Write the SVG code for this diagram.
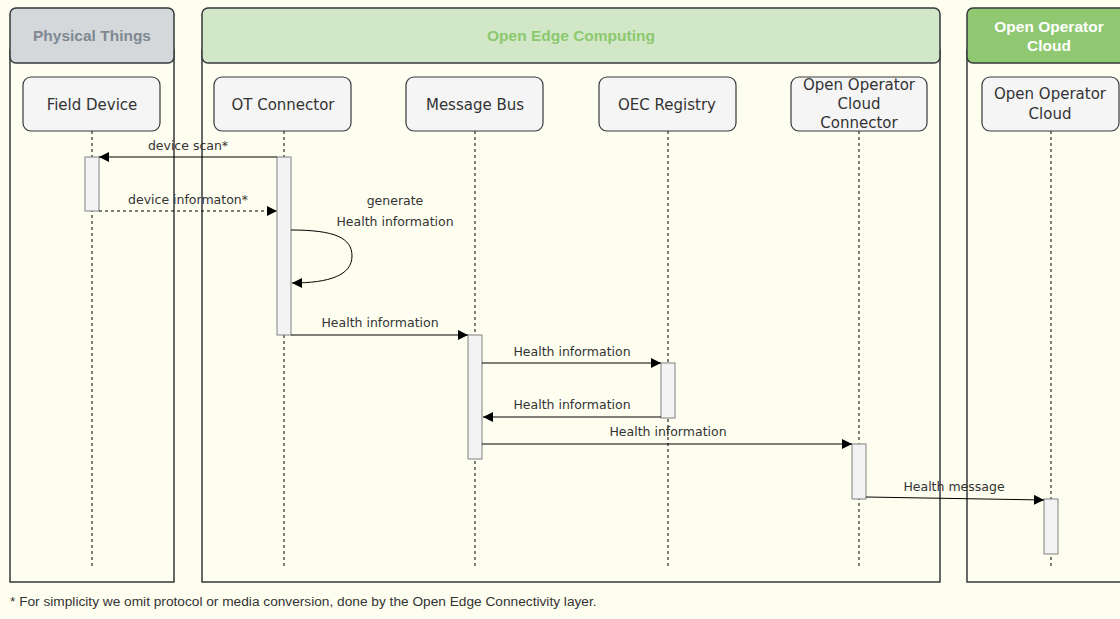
<svg xmlns="http://www.w3.org/2000/svg" width="1120" height="619" viewBox="0 0 1120 619">
  <defs>
    <marker id="arrow" viewBox="0 0 10 10" refX="10" refY="5" markerWidth="10" markerHeight="10" markerUnits="userSpaceOnUse" orient="auto">
      <path d="M0,0 L10,5 L0,10 Z" fill="#000"/>
    </marker>
    <style>
      .lane { fill: none; stroke: #36393d; stroke-width: 1.5; }
      .hdr { stroke: #36393d; stroke-width: 1.5; }
      .hdrtxt { font-family: "Liberation Sans", Arial, sans-serif; font-weight: bold; font-size: 15.5px; text-anchor: middle; }
      .life { fill: #f5f5f5; stroke: #36393d; stroke-width: 1.2; }
      .lifetxt { font-family: "DejaVu Sans", Verdana, sans-serif; font-size: 15px; fill: #333; text-anchor: middle; }
      .dash { stroke: #000; stroke-width: 1; stroke-dasharray: 3 3; fill: none; }
      .bar { fill: #f3f3f3; stroke: #808080; stroke-width: 1; }
      .msg { stroke: #000; stroke-width: 1; fill: none; marker-end: url(#arrow); }
      .msgtxt { font-family: "DejaVu Sans", Verdana, sans-serif; font-size: 12.5px; fill: #333; text-anchor: middle; }
      .note { font-family: "Liberation Sans", Arial, sans-serif; font-size: 13.7px; fill: #333; }
    </style>
  </defs>

  <rect width="1120" height="619" fill="#fefef0"/>

  <!-- swimlanes -->
  <g id="lane-physical">
    <rect class="lane" x="10" y="50" width="164" height="532"/>
    <rect class="hdr" x="10" y="8" width="164" height="55" rx="6" fill="#d4d8db"/>
    <text class="hdrtxt" x="92" y="41" fill="#7f8891">Physical Things</text>
  </g>
  <g id="lane-oec">
    <rect class="lane" x="202" y="50" width="738" height="532"/>
    <rect class="hdr" x="202" y="8" width="738" height="55" rx="6" fill="#d2e7c8"/>
    <text class="hdrtxt" x="571" y="41" fill="#8cc96e">Open Edge Computing</text>
  </g>
  <g id="lane-ooc">
    <rect class="lane" x="967" y="50" width="170" height="532"/>
    <rect class="hdr" x="967" y="8" width="170" height="55" rx="6" fill="#8fc870"/>
    <text class="hdrtxt" x="1049" y="32" fill="#fff">Open Operator</text>
    <text class="hdrtxt" x="1049" y="51" fill="#fff">Cloud</text>
  </g>

  <!-- lifelines -->
  <g id="field-device">
    <line class="dash" x1="92" y1="131" x2="92" y2="569"/>
    <rect class="life" x="23" y="77" width="137" height="54" rx="8"/>
    <text class="lifetxt" x="92" y="110">Field Device</text>
    <rect class="bar" x="85" y="157" width="14" height="54"/>
  </g>
  <g id="ot-connector">
    <line class="dash" x1="284" y1="131" x2="284" y2="569"/>
    <rect class="life" x="214" y="77" width="137" height="54" rx="8"/>
    <text class="lifetxt" x="283" y="110">OT Connector</text>
    <rect class="bar" x="277" y="157" width="14" height="178"/>
  </g>
  <g id="message-bus">
    <line class="dash" x1="475" y1="131" x2="475" y2="569"/>
    <rect class="life" x="406" y="77" width="137" height="54" rx="8"/>
    <text class="lifetxt" x="475" y="110">Message Bus</text>
    <rect class="bar" x="468" y="335" width="14" height="124"/>
  </g>
  <g id="oec-registry">
    <line class="dash" x1="668" y1="131" x2="668" y2="569"/>
    <rect class="life" x="599" y="77" width="137" height="54" rx="8"/>
    <text class="lifetxt" x="667" y="110">OEC Registry</text>
    <rect class="bar" x="661" y="363" width="14" height="55"/>
  </g>
  <g id="ooc-connector">
    <line class="dash" x1="859" y1="131" x2="859" y2="569"/>
    <rect class="life" x="791" y="77" width="136" height="54" rx="8"/>
    <text class="lifetxt" x="859" y="90">Open Operator</text>
    <text class="lifetxt" x="859" y="109">Cloud</text>
    <text class="lifetxt" x="859" y="128">Connector</text>
    <rect class="bar" x="852" y="444" width="14" height="55"/>
  </g>
  <g id="ooc">
    <line class="dash" x1="1051" y1="131" x2="1051" y2="569"/>
    <rect class="life" x="982" y="77" width="137" height="54" rx="8"/>
    <text class="lifetxt" x="1050" y="99">Open Operator</text>
    <text class="lifetxt" x="1050" y="119">Cloud</text>
    <rect class="bar" x="1044" y="499" width="14" height="55"/>
  </g>

  <!-- messages -->
  <g id="connectors">
    <line class="msg" x1="277" y1="157" x2="99" y2="157"/>
    <text class="msgtxt" x="188" y="150">device scan*</text>

    <line class="msg" x1="99" y1="211" x2="277" y2="211" stroke-dasharray="3 3"/>
    <text class="msgtxt" x="188" y="204">device informaton*</text>

    <path class="msg" d="M291,230 C335,230 352,238 352,256 C352,275 330,283 292,283"/>
    <text class="msgtxt" x="395" y="205">generate</text>
    <text class="msgtxt" x="395" y="226">Health information</text>

    <line class="msg" x1="291" y1="335" x2="468" y2="335"/>
    <text class="msgtxt" x="380" y="327">Health information</text>

    <line class="msg" x1="482" y1="363" x2="661" y2="363"/>
    <text class="msgtxt" x="572" y="356">Health information</text>

    <line class="msg" x1="661" y1="417" x2="483" y2="417"/>
    <text class="msgtxt" x="572" y="409">Health information</text>

    <line class="msg" x1="482" y1="444" x2="852" y2="444"/>
    <text class="msgtxt" x="668" y="436">Health information</text>

    <line class="msg" x1="866" y1="497" x2="1044" y2="500"/>
    <text class="msgtxt" x="954" y="491">Health message</text>
  </g>

  <text class="note" x="10" y="606">* For simplicity we omit protocol or media conversion, done by the Open Edge Connectivity layer.</text>
</svg>
